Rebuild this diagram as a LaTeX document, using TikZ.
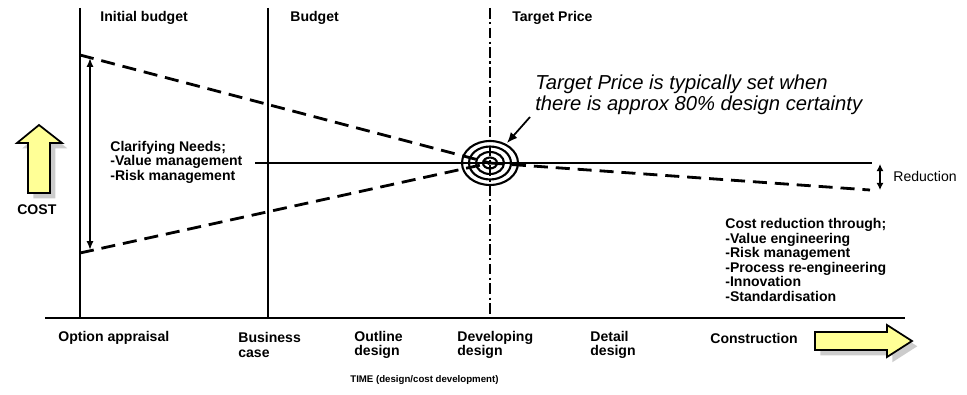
\documentclass[tikz,border=0pt]{standalone}
\usepackage{fontspec}
\setmainfont{Liberation Sans}
\usetikzlibrary{arrows.meta,shadows}
\definecolor{pale}{RGB}{255,255,150}
\tikzset{
  lab/.style={font=\bfseries\fontsize{8}{8.3}\selectfont,anchor=west,inner sep=0pt,align=left},
  cline/.style={line width=1.6pt,dash pattern=on 8pt off 4.5pt},
  yarrow/.style={draw,fill=pale,line width=1pt,line join=miter,
    drop shadow={shadow xshift=3pt,shadow yshift=-3pt,fill=gray!80}}
}
\begin{document}
\begin{tikzpicture}[x=0.02cm,y=-0.02cm]
    \useasboundingbox (0,0) rectangle (967,395);
    % stages and axis
    \coordinate (o1) at (45,318); \coordinate (o2) at (905,318);
    \draw[line width=1.2pt] (o1) -- (o2);
    \foreach \x/\nm in {80/ib,268/bu} {
      \coordinate (\nm top) at (\x,8); \coordinate (\nm bot) at (\x,318);
      \draw[line width=0.9pt] (\nm top) -- (\nm bot);
    }
    \coordinate (tptop) at (490,8); \coordinate (tpbot) at (490,322);
    \draw[line width=1pt,dash pattern=on 6pt off 2pt on 1.2pt off 2pt] (tptop) -- (tpbot);
    % target
    \coordinate (tgt) at (490,163);
    \foreach \r in {1,2,3,4} \draw[line width=1.2pt] (tgt) ellipse [x radius=0.14*\r cm,y radius=0.11*\r cm];
    \coordinate (hl) at (255,163); \coordinate (hr) at (872,163);
    \draw[line width=1pt] (hl) -- (hr);
    \coordinate (hi) at (80,55); \coordinate (lo) at (80,253); \coordinate (end) at (870,190);
    \draw[cline] (hi) -- (tgt);
    \draw[cline] (lo) -- (tgt);
    \draw[cline] (tgt) -- (end);
    % ranges
    \coordinate (ra) at (90,58); \coordinate (rb) at (90,250);
    \draw[line width=1pt,{Latex[length=5pt,width=4pt]}-{Latex[length=5pt,width=4pt]}] (ra) -- (rb);
    \coordinate (da) at (880,164); \coordinate (db) at (880,190);
    \draw[line width=1pt,{Latex[length=4pt,width=4pt]}-{Latex[length=4pt,width=4pt]}] (da) -- (db);
    % labels
    \node[lab] (l1) at (100,18) {Initial budget};
    \node[lab] (l2) at (290,18) {Budget};
    \node[lab] (l3) at (512,18) {Target Price};
    \node[lab] (needs) at (110,162) {Clarifying Needs;\\-Value management\\-Risk management};
    \node[lab] (cost) at (17,210) {COST};
    \node[lab,font=\fontsize{8}{8.3}\selectfont] (red) at (893,176) {Reduction};
    \node[lab,font=\itshape\fontsize{11.5}{12}\selectfont] (note) at (535,95) {Target Price is typically set when\\there is approx 80\% design certainty};
    \coordinate (na) at (530,117); \coordinate (nb) at (507,143);
    \draw[line width=1pt,-{Latex[length=6pt,width=5pt]}] (na) -- (nb);
    \node[lab] (cr) at (725,260) {Cost reduction through;\\-Value engineering\\-Risk management\\-Process re-engineering\\-Innovation\\-Standardisation};
    \foreach \x/\t/\nm in {58/Option appraisal/s1,710/Construction/s6}
      \node[lab] (\nm) at (\x,338) {\t};
    \foreach \x/\t/\nm in {238/Business\\case/s2,354/Outline\\design/s3,457/Developing\\design/s4,590/Detail\\design/s5}
      \node[lab] (\nm) at (\x,345) {\t};
    \node[lab,font=\bfseries\fontsize{5.5}{6}\selectfont] (time) at (350,380) {TIME (design/cost development)};
    % yellow arrows
    \draw[yarrow] (17,143) -- (39,125) -- (62,143) -- (50,143) -- (50,193) -- (28,193) -- (28,143) -- cycle;
    \draw[yarrow] (815,332) -- (887,332) -- (887,325) -- (912,341) -- (887,357) -- (887,350) -- (815,350) -- cycle;
\end{tikzpicture}
\end{document}
